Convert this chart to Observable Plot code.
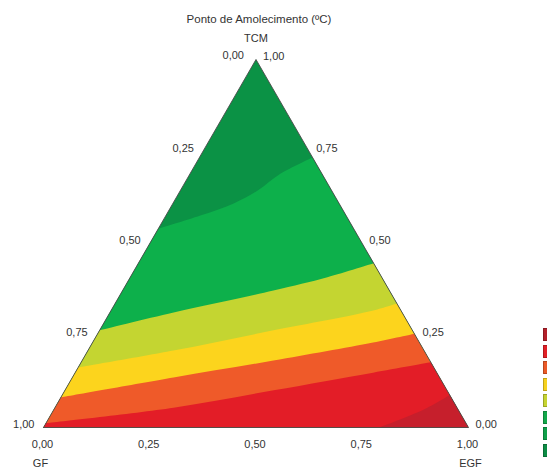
<!DOCTYPE html>
<html>
<head>
<meta charset="utf-8">
<script src="https://cdn.jsdelivr.net/npm/d3@7"></script>
<script src="https://cdn.jsdelivr.net/npm/@observablehq/plot@0.6"></script>
<style>
  body { margin: 0; background: #fff; }
  #wrap { position: relative; width: 547px; height: 470px; overflow: hidden; }
  .lg { position: absolute; left: 543px; width: 12px; height: 13px; box-sizing: border-box; border: 1px solid rgba(0,0,0,0.22); }
</style>
</head>
<body>
<div id="wrap"></div>
<script>
// ---------- data ----------
const title = "Ponto de Amolecimento (ºC)";
const vertexNames = { left: "GF", right: "EGF", top: "TCM" };
const tickValues = [0, 0.25, 0.5, 0.75, 1];
const tickLabels = ["0,00", "0,25", "0,50", "0,75", "1,00"];

// fill colours of the bands, from the TCM corner (top) downwards
const bandColors = ["#0b9245", "#0db04b", "#c4d531", "#fcd41d", "#ef5a29", "#e31d27", "#c61f2c"];

// contour boundaries, points as [EGF, TCM] fractions
const boundary1 = [[0, 0.54], [0.081, 0.576], [0.143, 0.609], [0.182, 0.644], [0.213, 0.690], [0.266, 0.734]];
const boundary2 = [[0, 0.264], [0.150, 0.3125], [0.355, 0.372], [0.464, 0.408], [0.554, 0.446]];
const boundary3 = [[0, 0.163], [0.201, 0.209], [0.409, 0.264], [0.617, 0.318], [0.663, 0.337]];
const boundary4 = [[0, 0.082], [0.238, 0.136], [0.450, 0.182], [0.660, 0.231], [0.745, 0.255]];
const boundary5 = [[0, 0.012], [0.279, 0.054], [0.491, 0.101], [0.701, 0.149], [0.823, 0.177]];
const boundary6 = [[0.79, 0], [0.87, 0.048], [0.912, 0.088]];
const boundaries = [boundary1, boundary2, boundary3, boundary4, boundary5, boundary6];

// legend swatches (labels are cut off in the reference)
const legendColors = ["#b3202a", "#e11f26", "#eb5a27", "#f6d21e", "#c6d431", "#12a84a", "#0ea049", "#0c8c44"];

// ---------- ternary helpers ----------
const S3 = Math.sqrt(3) / 2;
const toXY = ([e, t]) => ({ x: e + t / 2, y: t * S3 });
const GF = [0, 0], EGF = [1, 0], TCM = [0, 1];

const triangle = [GF, EGF, TCM, GF].map(toXY);

// region below each boundary (closed via the EGF and GF corners)
const bandPolys = boundaries.map(b => {
  const last = b[b.length - 1];
  return [...b, last, EGF, EGF, GF, GF].map(toXY);
});

const font = "'Liberation Sans', Arial, Helvetica, sans-serif";
const txt = { fill: "#333", fontSize: 11, stroke: null };

const leftLabels = tickValues.map((v, i) => ({ ...toXY([0, 1 - v]), label: tickLabels[i], v }));
const rightLabels = tickValues.map((v, i) => ({ ...toXY([1 - v, v]), label: tickLabels[i], v }));
const bottomLabels = tickValues.map((v, i) => ({ ...toXY([v, 0]), label: tickLabels[i], v }));

const marks = [
  Plot.line(triangle, { x: "x", y: "y", fill: bandColors[0], stroke: "none" }),
  ...bandPolys.map((p, i) =>
    Plot.line(p, { x: "x", y: "y", fill: bandColors[i + 1], stroke: "none", curve: "catmull-rom" })
  ),
  Plot.line(triangle, { x: "x", y: "y", stroke: "#4a4a4a", strokeWidth: 0.9, fill: "none" }),
  // left edge (GF)
  Plot.text(leftLabels.filter(d => d.v > 0), { x: "x", y: "y", text: "label", textAnchor: "end", dx: -9, dy: -3, ...txt }),
  Plot.text(leftLabels.filter(d => d.v === 0), { x: "x", y: "y", text: "label", textAnchor: "end", dx: -12, dy: -4, ...txt }),
  // right edge (TCM)
  Plot.text(rightLabels, { x: "x", y: "y", text: "label", textAnchor: "start", dx: 7, dy: -3, ...txt }),
  // bottom edge (EGF)
  Plot.text(bottomLabels, { x: "x", y: "y", text: "label", textAnchor: "middle", dx: -1, dy: 17, ...txt }),
  // vertex names
  Plot.text([toXY(GF)], { x: "x", y: "y", text: () => vertexNames.left, dx: -3, dy: 36, ...txt }),
  Plot.text([toXY(EGF)], { x: "x", y: "y", text: () => vertexNames.right, dx: 2, dy: 36, ...txt }),
  Plot.text([toXY(TCM)], { x: "x", y: "y", text: () => vertexNames.top, dx: 0, dy: -21, ...txt }),
  Plot.text([toXY(TCM)], { x: "x", y: "y", text: () => title, dx: 3, dy: -40, ...txt, fontSize: 11.5 })
];

const chart = Plot.plot({
  width: 547,
  height: 470,
  margin: 0,
  style: { fontFamily: font, background: "#fff", overflow: "visible" },
  x: { domain: [0, 1], range: [43, 468], axis: null },
  y: { domain: [0, S3], range: [427, 59], axis: null },
  marks
});

const wrap = document.getElementById("wrap");
wrap.appendChild(chart);

legendColors.forEach((c, i) => {
  const d = document.createElement("div");
  d.className = "lg";
  d.style.top = (328 + i * 16.5) + "px";
  d.style.background = c;
  wrap.appendChild(d);
});
</script>
</body>
</html>
